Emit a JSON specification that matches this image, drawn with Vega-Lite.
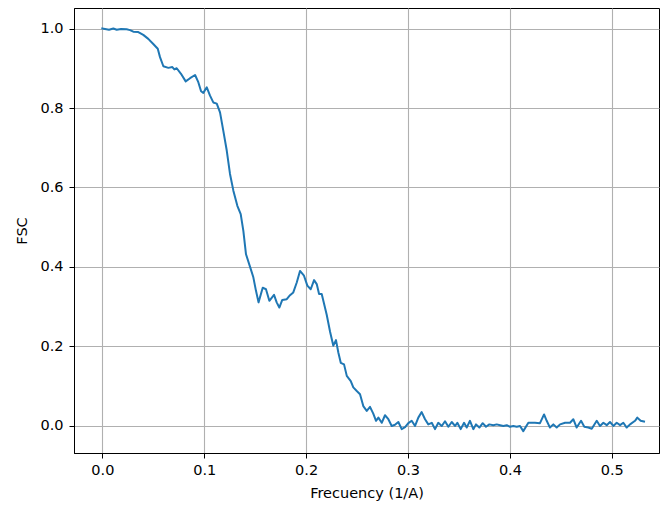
{
  "$schema": "https://vega.github.io/schema/vega-lite/v6.json",
  "width": 585,
  "height": 445,
  "autosize": {"type": "none"},
  "padding": {"left": 74, "top": 8, "right": 2, "bottom": 53},
  "background": "white",
  "config": {
    "font": "DejaVu Sans",
    "view": {"stroke": "black", "strokeWidth": 1},
    "axis": {
      "gridColor": "#b0b0b0",
      "gridWidth": 1.1,
      "gridOpacity": 1,
      "domainColor": "black",
      "domainWidth": 1,
      "tickColor": "black",
      "tickWidth": 1,
      "tickSize": 5,
      "labelFont": "DejaVu Sans",
      "labelFontSize": 14.5,
      "labelColor": "black",
      "titleFont": "DejaVu Sans",
      "titleFontSize": 14.5,
      "titleFontWeight": "normal",
      "titleColor": "black"
    }
  },
  "data": {
    "values": [
      {"f": 0.0, "fsc": 1.0}, {"f": 0.0026, "fsc": 0.999}, {"f": 0.0066, "fsc": 0.997}, {"f": 0.0108, "fsc": 1.0},
      {"f": 0.0141, "fsc": 0.997}, {"f": 0.0184, "fsc": 0.999}, {"f": 0.0239, "fsc": 0.998}, {"f": 0.0272, "fsc": 0.996},
      {"f": 0.0304, "fsc": 0.992}, {"f": 0.0353, "fsc": 0.991}, {"f": 0.0402, "fsc": 0.984}, {"f": 0.0451, "fsc": 0.974},
      {"f": 0.05, "fsc": 0.961}, {"f": 0.0544, "fsc": 0.949}, {"f": 0.0566, "fsc": 0.928}, {"f": 0.0599, "fsc": 0.905},
      {"f": 0.0648, "fsc": 0.901}, {"f": 0.0687, "fsc": 0.903}, {"f": 0.0707, "fsc": 0.897}, {"f": 0.073, "fsc": 0.9},
      {"f": 0.0772, "fsc": 0.886}, {"f": 0.0818, "fsc": 0.867}, {"f": 0.0861, "fsc": 0.875}, {"f": 0.091, "fsc": 0.883},
      {"f": 0.0942, "fsc": 0.865}, {"f": 0.0969, "fsc": 0.842}, {"f": 0.0991, "fsc": 0.838}, {"f": 0.1025, "fsc": 0.852},
      {"f": 0.1057, "fsc": 0.831}, {"f": 0.1089, "fsc": 0.814}, {"f": 0.1123, "fsc": 0.811}, {"f": 0.1155, "fsc": 0.789},
      {"f": 0.1187, "fsc": 0.743}, {"f": 0.1221, "fsc": 0.693}, {"f": 0.1253, "fsc": 0.634}, {"f": 0.1286, "fsc": 0.592},
      {"f": 0.1325, "fsc": 0.554}, {"f": 0.1358, "fsc": 0.533}, {"f": 0.1384, "fsc": 0.491}, {"f": 0.141, "fsc": 0.432},
      {"f": 0.1449, "fsc": 0.401}, {"f": 0.1482, "fsc": 0.374}, {"f": 0.1508, "fsc": 0.34}, {"f": 0.1533, "fsc": 0.311},
      {"f": 0.1574, "fsc": 0.348}, {"f": 0.1606, "fsc": 0.344}, {"f": 0.1639, "fsc": 0.315}, {"f": 0.1685, "fsc": 0.33},
      {"f": 0.1711, "fsc": 0.311}, {"f": 0.1737, "fsc": 0.298}, {"f": 0.1766, "fsc": 0.317}, {"f": 0.181, "fsc": 0.319},
      {"f": 0.1842, "fsc": 0.329}, {"f": 0.1874, "fsc": 0.336}, {"f": 0.1908, "fsc": 0.361}, {"f": 0.194, "fsc": 0.39},
      {"f": 0.1979, "fsc": 0.378}, {"f": 0.2012, "fsc": 0.353}, {"f": 0.2045, "fsc": 0.344}, {"f": 0.2078, "fsc": 0.367},
      {"f": 0.2104, "fsc": 0.357}, {"f": 0.2127, "fsc": 0.332}, {"f": 0.2153, "fsc": 0.332}, {"f": 0.2202, "fsc": 0.28},
      {"f": 0.2235, "fsc": 0.237}, {"f": 0.2267, "fsc": 0.202}, {"f": 0.2293, "fsc": 0.216}, {"f": 0.2316, "fsc": 0.185},
      {"f": 0.234, "fsc": 0.159}, {"f": 0.2372, "fsc": 0.155}, {"f": 0.2399, "fsc": 0.126}, {"f": 0.2438, "fsc": 0.113},
      {"f": 0.2463, "fsc": 0.097}, {"f": 0.2497, "fsc": 0.088}, {"f": 0.2529, "fsc": 0.08}, {"f": 0.2561, "fsc": 0.05},
      {"f": 0.2595, "fsc": 0.038}, {"f": 0.2627, "fsc": 0.048}, {"f": 0.2659, "fsc": 0.031}, {"f": 0.2686, "fsc": 0.013},
      {"f": 0.2709, "fsc": 0.021}, {"f": 0.2742, "fsc": 0.008}, {"f": 0.2774, "fsc": 0.027}, {"f": 0.2807, "fsc": 0.017},
      {"f": 0.284, "fsc": 0.0}, {"f": 0.2872, "fsc": 0.003}, {"f": 0.2905, "fsc": 0.01}, {"f": 0.2938, "fsc": -0.008},
      {"f": 0.2971, "fsc": -0.003}, {"f": 0.3003, "fsc": 0.007}, {"f": 0.3036, "fsc": 0.013}, {"f": 0.3069, "fsc": 0.0},
      {"f": 0.3101, "fsc": 0.021}, {"f": 0.3134, "fsc": 0.035}, {"f": 0.3167, "fsc": 0.017}, {"f": 0.3199, "fsc": 0.004},
      {"f": 0.3233, "fsc": 0.008}, {"f": 0.3265, "fsc": -0.008}, {"f": 0.3297, "fsc": 0.008}, {"f": 0.3331, "fsc": 0.0},
      {"f": 0.3363, "fsc": 0.012}, {"f": 0.3396, "fsc": -0.002}, {"f": 0.3429, "fsc": 0.01}, {"f": 0.3461, "fsc": 0.0},
      {"f": 0.3484, "fsc": 0.008}, {"f": 0.3517, "fsc": -0.008}, {"f": 0.355, "fsc": 0.008}, {"f": 0.3576, "fsc": -0.004},
      {"f": 0.3608, "fsc": 0.013}, {"f": 0.3641, "fsc": -0.008}, {"f": 0.3667, "fsc": 0.004}, {"f": 0.37, "fsc": -0.004},
      {"f": 0.3733, "fsc": 0.007}, {"f": 0.3765, "fsc": -0.002}, {"f": 0.3798, "fsc": 0.004}, {"f": 0.3837, "fsc": 0.002},
      {"f": 0.387, "fsc": 0.004}, {"f": 0.3903, "fsc": 0.002}, {"f": 0.3935, "fsc": 0.0}, {"f": 0.3969, "fsc": 0.002},
      {"f": 0.4001, "fsc": -0.002}, {"f": 0.4033, "fsc": 0.0}, {"f": 0.4067, "fsc": -0.002}, {"f": 0.4099, "fsc": 0.0},
      {"f": 0.4131, "fsc": -0.013}, {"f": 0.4181, "fsc": 0.008}, {"f": 0.4246, "fsc": 0.008}, {"f": 0.4295, "fsc": 0.007},
      {"f": 0.4335, "fsc": 0.029}, {"f": 0.4361, "fsc": 0.013}, {"f": 0.4393, "fsc": -0.004}, {"f": 0.4426, "fsc": 0.004},
      {"f": 0.4459, "fsc": -0.004}, {"f": 0.4492, "fsc": 0.004}, {"f": 0.4541, "fsc": 0.008}, {"f": 0.459, "fsc": 0.008},
      {"f": 0.4622, "fsc": 0.017}, {"f": 0.4655, "fsc": -0.004}, {"f": 0.4698, "fsc": 0.013}, {"f": 0.473, "fsc": -0.002},
      {"f": 0.4769, "fsc": -0.004}, {"f": 0.4803, "fsc": -0.007}, {"f": 0.4852, "fsc": 0.013}, {"f": 0.4884, "fsc": 0.0},
      {"f": 0.4917, "fsc": 0.008}, {"f": 0.495, "fsc": 0.002}, {"f": 0.4982, "fsc": 0.01}, {"f": 0.5015, "fsc": 0.0},
      {"f": 0.5048, "fsc": 0.008}, {"f": 0.5081, "fsc": 0.002}, {"f": 0.5113, "fsc": 0.008}, {"f": 0.5146, "fsc": -0.004},
      {"f": 0.5179, "fsc": 0.004}, {"f": 0.5228, "fsc": 0.013}, {"f": 0.525, "fsc": 0.021}, {"f": 0.5283, "fsc": 0.013},
      {"f": 0.5316, "fsc": 0.011}
    ]
  },
  "mark": {"type": "line", "color": "#1f77b4", "strokeWidth": 2, "strokeJoin": "round", "strokeCap": "square"},
  "encoding": {
    "x": {
      "field": "f",
      "type": "quantitative",
      "scale": {"domain": [-0.0278, 0.5463], "nice": false, "zero": false},
      "axis": {"title": "Frecuency (1/A)", "values": [0, 0.1, 0.2, 0.3, 0.4, 0.5], "format": ".1f", "labelPadding": 5, "titlePadding": 10}
    },
    "y": {
      "field": "fsc",
      "type": "quantitative",
      "scale": {"domain": [-0.068, 1.0516], "nice": false, "zero": false},
      "axis": {"title": "FSC", "values": [0, 0.2, 0.4, 0.6, 0.8, 1.0], "format": ".1f", "labelPadding": 6, "titlePadding": 10}
    }
  }
}
